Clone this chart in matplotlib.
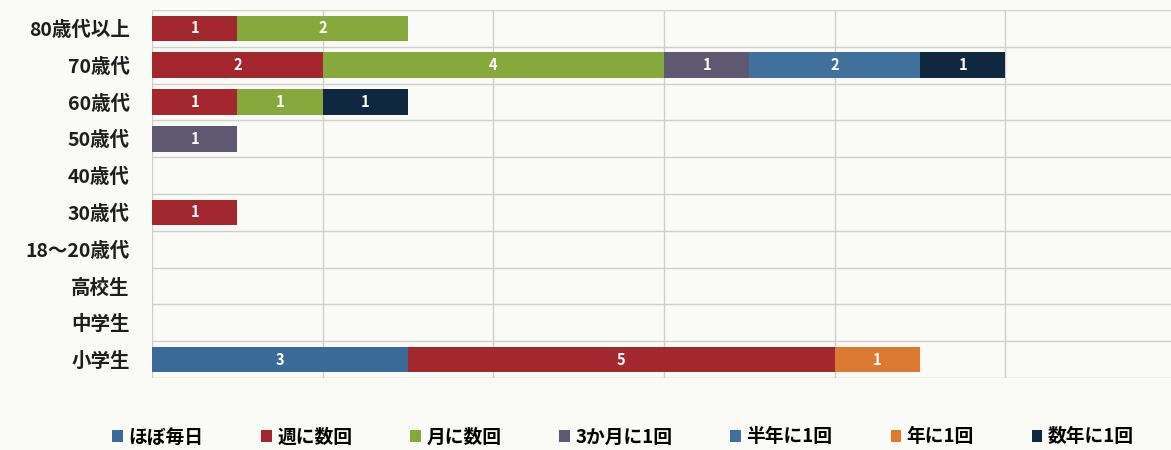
import numpy as np
import matplotlib.pyplot as plt
from matplotlib.patches import Patch

plt.rcParams['font.family'] = ['Noto Sans CJK JP', 'DejaVu Sans']

# 年代ごとの回答数（上から順）
categories = ['80歳代以上', '70歳代', '60歳代', '50歳代', '40歳代',
              '30歳代', '18～20歳代', '高校生', '中学生', '小学生']
series = ['ほぼ毎日', '週に数回', '月に数回', '3か月に1回', '半年に1回', '年に1回', '数年に1回']
hobo_mainichi = [0, 0, 0, 0, 0, 0, 0, 0, 0, 3]
shu_ni_suukai = [1, 2, 1, 0, 0, 1, 0, 0, 0, 5]
tsuki_ni_suukai = [2, 4, 1, 0, 0, 0, 0, 0, 0, 0]
sankagetsu = [0, 1, 0, 1, 0, 0, 0, 0, 0, 0]
hantoshi = [0, 2, 0, 0, 0, 0, 0, 0, 0, 0]
nen_ni_ikkai = [0, 0, 0, 0, 0, 0, 0, 0, 0, 1]
suunen = [0, 1, 1, 0, 0, 0, 0, 0, 0, 0]
colors = ['#3b6a98', '#a3272f', '#87a83c', '#5e5870', '#41709c', '#dc7a34', '#10283f']

values = [hobo_mainichi, shu_ni_suukai, tsuki_ni_suukai, sankagetsu, hantoshi, nen_ni_ikkai, suunen]

bg = '#fafaf6'
fig = plt.figure(figsize=(11.71, 4.5), dpi=100, facecolor=bg)
ax = fig.add_axes([152/1171, 1 - 378/450, 1 - 152/1171 + 0.01, 368/450])
ax.set_facecolor(bg)

y = np.arange(len(categories))
left = np.zeros(len(categories))
for name, vals, c in zip(series, values, colors):
    vals = np.array(vals, dtype=float)
    bars = ax.barh(y, vals, left=left, height=0.7, color=c, zorder=3)
    for b, v in zip(bars, vals):
        if v > 0:
            ax.text(b.get_x() + b.get_width()/2, b.get_y() + b.get_height()/2,
                    '%d' % v, ha='center', va='center', color='white',
                    fontsize=10.5, fontweight='bold', zorder=4)
    left += vals

ax.set_xlim(0, 12.08)
ax.set_ylim(len(categories) - 0.5, -0.5)
ax.set_xticks([0, 2, 4, 6, 8, 10, 12])
ax.set_xticklabels([])
ax.set_yticks(y)
ax.set_yticklabels(categories, fontsize=14, fontweight='bold', color='#1e1e1e')
ax.set_yticks(np.arange(len(categories) + 1) - 0.5, minor=True)
ax.tick_params(axis='both', which='both', length=0)
ax.tick_params(axis='y', pad=16)
ax.grid(axis='x', which='major', color='#cfcfcb', linewidth=1, zorder=0)
ax.grid(axis='y', which='minor', color='#cfcfcb', linewidth=1, zorder=0)
for s in ax.spines.values():
    s.set_visible(False)

handles = [Patch(facecolor=c, label=n) for n, c in zip(series, colors)]
fig.legend(handles=handles, loc='center', bbox_to_anchor=(0.532, 1 - 437/450),
           ncol=7, frameon=False, handlelength=0.55, handleheight=0.55,
           handletextpad=0.3, columnspacing=3.1, prop={'weight': 'bold', 'size': 13.5})

fig.savefig('out.png', dpi=100, facecolor=bg)
